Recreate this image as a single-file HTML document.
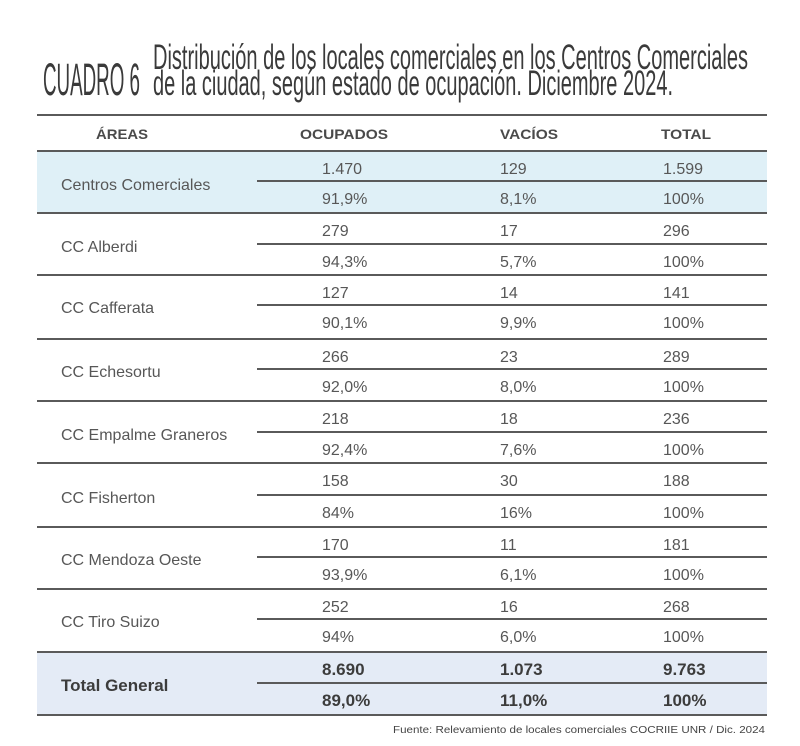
<!DOCTYPE html>
<html><head><meta charset="utf-8"><style>
html,body{margin:0;padding:0;background:#fff;}
svg{display:block;}
.t{font-family:"Liberation Sans Narrow","Liberation Sans",sans-serif;fill:#3a3a3a;}
.h{font-family:"Liberation Sans",sans-serif;font-weight:bold;font-size:14px;fill:#4a4a4a;}
.n{font-family:"Liberation Sans",sans-serif;font-size:16px;fill:#575757;}
.b{font-family:"Liberation Sans",sans-serif;font-size:17px;font-weight:bold;fill:#3c3c3c;}
.f{font-family:"Liberation Sans",sans-serif;font-size:10px;fill:#444;}
</style></head><body>
<svg width="800" height="746" viewBox="0 0 800 746" xmlns="http://www.w3.org/2000/svg">
<rect width="800" height="746" fill="#fff"/>
<!-- title -->
<text class="t" x="43" y="95" font-size="45" textLength="97" lengthAdjust="spacingAndGlyphs">CUADRO 6</text>
<text class="t" x="153" y="69" font-size="35" textLength="595" lengthAdjust="spacingAndGlyphs">Distribución de los locales comerciales en los Centros Comerciales</text>
<text class="t" x="153" y="95" font-size="35" textLength="520" lengthAdjust="spacingAndGlyphs">de la ciudad, según estado de ocupación. Diciembre 2024.</text>

<!-- backgrounds -->
<rect x="37" y="151" width="730" height="62" fill="#dff0f7"/>
<rect x="37" y="652" width="730" height="63" fill="#e4ebf6"/>

<!-- lines -->
<g stroke="#5a5a5a" stroke-width="2">
<line x1="37" y1="115" x2="767" y2="115"/>
<line x1="37" y1="151" x2="767" y2="151"/>
<line x1="37" y1="213" x2="767" y2="213"/>
<line x1="37" y1="275" x2="767" y2="275"/>
<line x1="37" y1="339" x2="767" y2="339"/>
<line x1="37" y1="401" x2="767" y2="401"/>
<line x1="37" y1="463" x2="767" y2="463"/>
<line x1="37" y1="527" x2="767" y2="527"/>
<line x1="37" y1="589" x2="767" y2="589"/>
<line x1="37" y1="652" x2="767" y2="652"/>
<line x1="37" y1="715" x2="767" y2="715"/>
<line x1="257" y1="181" x2="767" y2="181"/>
<line x1="257" y1="244" x2="767" y2="244"/>
<line x1="257" y1="305" x2="767" y2="305"/>
<line x1="257" y1="369" x2="767" y2="369"/>
<line x1="257" y1="432" x2="767" y2="432"/>
<line x1="257" y1="495" x2="767" y2="495"/>
<line x1="257" y1="557" x2="767" y2="557"/>
<line x1="257" y1="619" x2="767" y2="619"/>
<line x1="257" y1="683" x2="767" y2="683"/>
</g>

<!-- header -->
<text class="h" x="96" y="139" textLength="52" lengthAdjust="spacingAndGlyphs">ÁREAS</text>
<text class="h" x="300" y="139" textLength="88" lengthAdjust="spacingAndGlyphs">OCUPADOS</text>
<text class="h" x="500" y="139" textLength="58" lengthAdjust="spacingAndGlyphs">VACÍOS</text>
<text class="h" x="661" y="139" textLength="50" lengthAdjust="spacingAndGlyphs">TOTAL</text>

<!-- rows -->
<g class="n">
<text x="61" y="190">Centros Comerciales</text>
<text x="322" y="174">1.470</text><text x="500" y="174">129</text><text x="663" y="174">1.599</text>
<text x="322" y="204">91,9%</text><text x="500" y="204">8,1%</text><text x="663" y="204">100%</text>

<text x="61" y="252">CC Alberdi</text>
<text x="322" y="236">279</text><text x="500" y="236">17</text><text x="663" y="236">296</text>
<text x="322" y="267">94,3%</text><text x="500" y="267">5,7%</text><text x="663" y="267">100%</text>

<text x="61" y="313">CC Cafferata</text>
<text x="322" y="298">127</text><text x="500" y="298">14</text><text x="663" y="298">141</text>
<text x="322" y="328">90,1%</text><text x="500" y="328">9,9%</text><text x="663" y="328">100%</text>

<text x="61" y="377">CC Echesortu</text>
<text x="322" y="362">266</text><text x="500" y="362">23</text><text x="663" y="362">289</text>
<text x="322" y="392">92,0%</text><text x="500" y="392">8,0%</text><text x="663" y="392">100%</text>

<text x="61" y="440">CC Empalme Graneros</text>
<text x="322" y="424">218</text><text x="500" y="424">18</text><text x="663" y="424">236</text>
<text x="322" y="455">92,4%</text><text x="500" y="455">7,6%</text><text x="663" y="455">100%</text>

<text x="61" y="503">CC Fisherton</text>
<text x="322" y="486">158</text><text x="500" y="486">30</text><text x="663" y="486">188</text>
<text x="322" y="518">84%</text><text x="500" y="518">16%</text><text x="663" y="518">100%</text>

<text x="61" y="565">CC Mendoza Oeste</text>
<text x="322" y="550">170</text><text x="500" y="550">11</text><text x="663" y="550">181</text>
<text x="322" y="580">93,9%</text><text x="500" y="580">6,1%</text><text x="663" y="580">100%</text>

<text x="61" y="627">CC Tiro Suizo</text>
<text x="322" y="612">252</text><text x="500" y="612">16</text><text x="663" y="612">268</text>
<text x="322" y="642">94%</text><text x="500" y="642">6,0%</text><text x="663" y="642">100%</text>
</g>

<g class="b">
<text x="61" y="691">Total General</text>
<text x="322" y="675">8.690</text><text x="500" y="675">1.073</text><text x="663" y="675">9.763</text>
<text x="322" y="706">89,0%</text><text x="500" y="706">11,0%</text><text x="663" y="706">100%</text>
</g>

<text class="f" x="393" y="733" textLength="372" lengthAdjust="spacingAndGlyphs">Fuente: Relevamiento de locales comerciales COCRIIE UNR / Dic. 2024</text>
</svg>
</body></html>
